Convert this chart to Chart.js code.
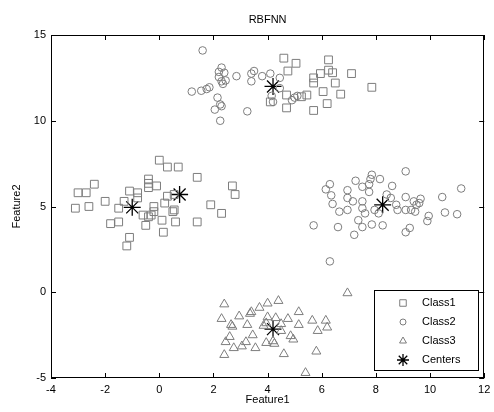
<!DOCTYPE html>
<html>
<head>
<meta charset="utf-8">
<script src="https://cdn.jsdelivr.net/npm/chart.js@4.4.0/dist/chart.umd.min.js"></script>
<style>
html,body{margin:0;padding:0;background:#fff;}
#wrap{width:494px;height:412px;}
</style>
</head>
<body>
<div id="wrap"><canvas id="c" width="494" height="412"></canvas></div>
<script>
const chartTitle = 'RBFNN';
const xTitle = 'Feature1';
const yTitle = 'Feature2';
const xTicks = [-4, -2, 0, 2, 4, 6, 8, 10, 12];
const yTicks = [-5, 0, 5, 10, 15];
const seriesNames = ['Class1', 'Class2', 'Class3', 'Centers'];

const class1 = [
  [0.0,7.7],[0.3,7.3],[0.7,7.3],[1.4,6.7],[2.7,6.2],[2.8,5.7],[1.9,5.1],[2.3,4.6],[1.4,4.1],
  [-2.4,6.3],[-3.0,5.8],[-2.7,5.8],[-3.1,4.9],[-2.6,5.0],[-2.0,5.3],[-0.4,6.6],[-0.4,6.35],
  [-0.4,6.1],[-0.1,6.2],[-1.1,5.9],[-0.8,5.8],[-0.8,5.5],[-1.3,5.3],[-1.5,4.9],[-0.6,4.5],
  [-0.2,5.0],[-0.3,4.5],[-0.4,4.4],[-0.5,3.9],[-1.8,4.0],[-1.5,4.1],[-1.1,3.2],[-1.2,2.7],
  [0.1,4.2],[0.15,3.5],[0.3,5.6],[0.55,5.7],[0.5,4.7],[0.6,4.1],[0.2,5.2],[-0.2,4.7],[0.55,4.8],
  [4.6,13.65],[5.05,13.35],[4.75,12.9],[6.25,13.55],[5.95,12.75],[6.25,12.95],[6.4,12.8],
  [5.7,12.5],[5.7,12.2],[7.1,12.75],[6.5,12.2],[7.85,11.95],[6.05,11.7],[6.7,11.55],[5.45,11.5],
  [5.25,11.4],[4.7,11.5],[4.7,10.75],[5.7,10.6],[6.2,11.0],[4.1,11.1]
];
const class2 = [
  [1.6,14.1],[2.3,13.1],[2.2,12.85],[2.4,12.8],[2.2,12.55],[2.3,12.3],[2.45,12.35],[2.35,12.15],
  [2.85,12.6],[3.4,12.75],[3.5,12.9],[3.4,12.3],[3.8,12.6],[4.1,12.75],[1.2,11.7],[1.55,11.75],
  [1.75,11.85],[1.85,11.95],[2.15,11.35],[2.25,10.95],[2.3,10.85],[2.05,10.65],[2.25,10.0],
  [3.25,10.55],[4.45,12.5],[4.45,11.9],[4.2,11.1],[4.15,11.45],[5.0,11.35],[5.1,11.45],[4.9,11.2],
  [9.1,7.05],[7.85,6.85],[7.8,6.6],[8.15,6.6],[7.25,6.5],[6.3,6.3],[6.15,6.0],[6.35,5.65],
  [7.5,6.15],[7.75,6.3],[7.75,5.85],[8.6,6.2],[6.95,5.95],[6.95,5.5],[7.15,5.3],[6.4,5.15],
  [6.65,4.7],[6.95,4.8],[7.5,5.3],[7.5,4.9],[7.6,4.6],[7.95,4.8],[8.1,4.6],[8.4,5.7],[8.55,5.5],
  [8.75,5.1],[8.8,4.8],[9.1,5.55],[9.1,4.8],[9.3,4.8],[9.45,4.7],[9.4,5.3],[9.65,5.45],[9.6,5.2],
  [9.5,5.1],[10.45,5.55],[11.15,6.05],[10.55,4.65],[11.0,4.55],[9.95,4.45],[9.9,4.15],[5.7,3.9],
  [6.6,3.8],[7.35,4.2],[7.5,3.8],[7.85,3.95],[8.25,3.9],[7.2,3.35],[9.1,3.5],[9.25,3.75],[6.3,1.8]
];
const class3 = [
  [6.95,-0.05],[2.4,-0.7],[2.3,-1.55],[2.65,-1.9],[2.7,-2.0],[2.95,-1.4],[3.35,-1.25],[3.4,-1.15],
  [3.7,-0.9],[4.0,-0.65],[4.4,-0.5],[3.25,-1.9],[4.0,-1.45],[4.3,-1.5],[3.95,-1.8],[3.85,-1.95],
  [4.5,-1.85],[4.75,-1.55],[5.15,-1.15],[5.15,-1.9],[4.5,-2.25],[5.65,-1.65],[5.85,-2.25],
  [6.15,-1.65],[6.2,-2.05],[2.6,-2.6],[2.45,-2.9],[3.45,-2.5],[3.2,-2.9],[3.05,-3.15],[3.55,-3.25],
  [2.75,-3.25],[2.4,-3.65],[3.95,-2.95],[4.2,-2.85],[4.25,-3.0],[4.85,-2.55],[4.95,-2.75],
  [4.6,-3.6],[5.8,-3.45],[5.4,-4.7]
];
const centers = [[-1.0,4.95],[0.75,5.7],[4.2,12.0],[8.25,5.1],[4.2,-2.15]];

const toXY = a => a.map(p => ({x: p[0], y: p[1]}));
const GRAY = '#7d7d7d';
const FONT = 'Liberation Sans, Arial, sans-serif';

const frame = {
  id: 'frame',
  afterDatasetsDraw(chart) {
    const {ctx, chartArea: a, scales} = chart;
    ctx.save();
    ctx.strokeStyle = '#000';
    ctx.lineWidth = 1;
    ctx.strokeRect(Math.round(a.left) + 0.5, Math.round(a.top) + 0.5,
                   Math.round(a.right - a.left) - 1, Math.round(a.bottom - a.top) - 1);
    const tl = 5;
    ctx.beginPath();
    xTicks.forEach(v => {
      const px = Math.round(scales.x.getPixelForValue(v)) + 0.5;
      ctx.moveTo(px, a.bottom); ctx.lineTo(px, a.bottom - tl);
      ctx.moveTo(px, a.top); ctx.lineTo(px, a.top + tl);
    });
    yTicks.forEach(v => {
      const py = Math.round(scales.y.getPixelForValue(v)) + 0.5;
      ctx.moveTo(a.left, py); ctx.lineTo(a.left + tl, py);
      ctx.moveTo(a.right, py); ctx.lineTo(a.right - tl, py);
    });
    ctx.stroke();
    // title
    ctx.fillStyle = '#000';
    ctx.font = '11px ' + FONT;
    ctx.textAlign = 'center';
    ctx.textBaseline = 'middle';
    ctx.fillText(chartTitle, (a.left + a.right) / 2, 20);
    // legend
    const lx = 374, ly = 290, lw = 104, lh = 80;
    ctx.fillStyle = '#fff';
    ctx.fillRect(lx, ly, lw, lh);
    ctx.strokeStyle = '#000';
    ctx.strokeRect(lx + 0.5, ly + 0.5, lw, lh);
    const rows = [303, 322, 341, 360];
    chart.data.datasets.forEach((ds, i) => {
      const style = {
        pointStyle: ds.pointStyle,
        radius: i === 3 ? 6 : (i === 0 ? 4.6 : (i === 1 ? 3 : 4)),
        borderWidth: ds.borderWidth,
        rotation: 0
      };
      ctx.strokeStyle = ds.borderColor;
      ctx.fillStyle = 'rgba(0,0,0,0)';
      ctx.lineWidth = ds.borderWidth;
      Chart.helpers.drawPoint(ctx, style, 403, rows[i]);
      ctx.fillStyle = '#000';
      ctx.font = '11px ' + FONT;
      ctx.textAlign = 'left';
      ctx.textBaseline = 'middle';
      ctx.fillText(ds.label, 422, rows[i]);
    });
    ctx.restore();
  }
};

new Chart(document.getElementById('c'), {
  type: 'scatter',
  data: {
    datasets: [
      {label: seriesNames[0], data: toXY(class1), pointStyle: 'rect', pointRadius: 5.5,
       borderColor: GRAY, backgroundColor: 'rgba(0,0,0,0)', borderWidth: 1},
      {label: seriesNames[1], data: toXY(class2), pointStyle: 'circle', pointRadius: 3.8,
       borderColor: GRAY, backgroundColor: 'rgba(0,0,0,0)', borderWidth: 1},
      {label: seriesNames[2], data: toXY(class3), pointStyle: 'triangle', pointRadius: 5.2,
       borderColor: GRAY, backgroundColor: 'rgba(0,0,0,0)', borderWidth: 1},
      {label: seriesNames[3], data: toXY(centers), pointStyle: 'star', pointRadius: 8.5,
       borderColor: '#000', backgroundColor: 'rgba(0,0,0,0)', borderWidth: 1.3}
    ]
  },
  options: {
    responsive: false,
    animation: false,
    devicePixelRatio: 1,
    layout: {padding: {top: 35, right: 0, left: 0, bottom: 0}},
    plugins: {legend: {display: false}, title: {display: false}, tooltip: {enabled: false}},
    elements: {point: {hoverRadius: 5}},
    scales: {
      x: {
        type: 'linear', min: -4, max: 12,
        afterBuildTicks: s => { s.ticks = xTicks.map(v => ({value: v})); },
        afterFit: s => { s.height = 34; s.paddingRight = 7; s.paddingLeft = 0; },
        grid: {display: false, drawTicks: false, tickLength: 0}, border: {display: false},
        ticks: {padding: 5, color: '#000', font: {family: FONT, size: 11}, maxRotation: 0, autoSkip: false},
        title: {display: true, text: xTitle, color: '#000', font: {family: FONT, size: 11},
                padding: {top: 0, bottom: 5}}
      },
      y: {
        type: 'linear', min: -5, max: 15,
        afterBuildTicks: s => { s.ticks = yTicks.map(v => ({value: v})); },
        afterFit: s => { s.width = 51; },
        grid: {display: false, drawTicks: false, tickLength: 0}, border: {display: false},
        ticks: {padding: 5, color: '#000', font: {family: FONT, size: 11}, autoSkip: false},
        title: {display: true, text: yTitle, color: '#000', font: {family: FONT, size: 11},
                padding: {top: 10, bottom: 0}}
      }
    }
  },
  plugins: [frame]
});
</script>
</body>
</html>
